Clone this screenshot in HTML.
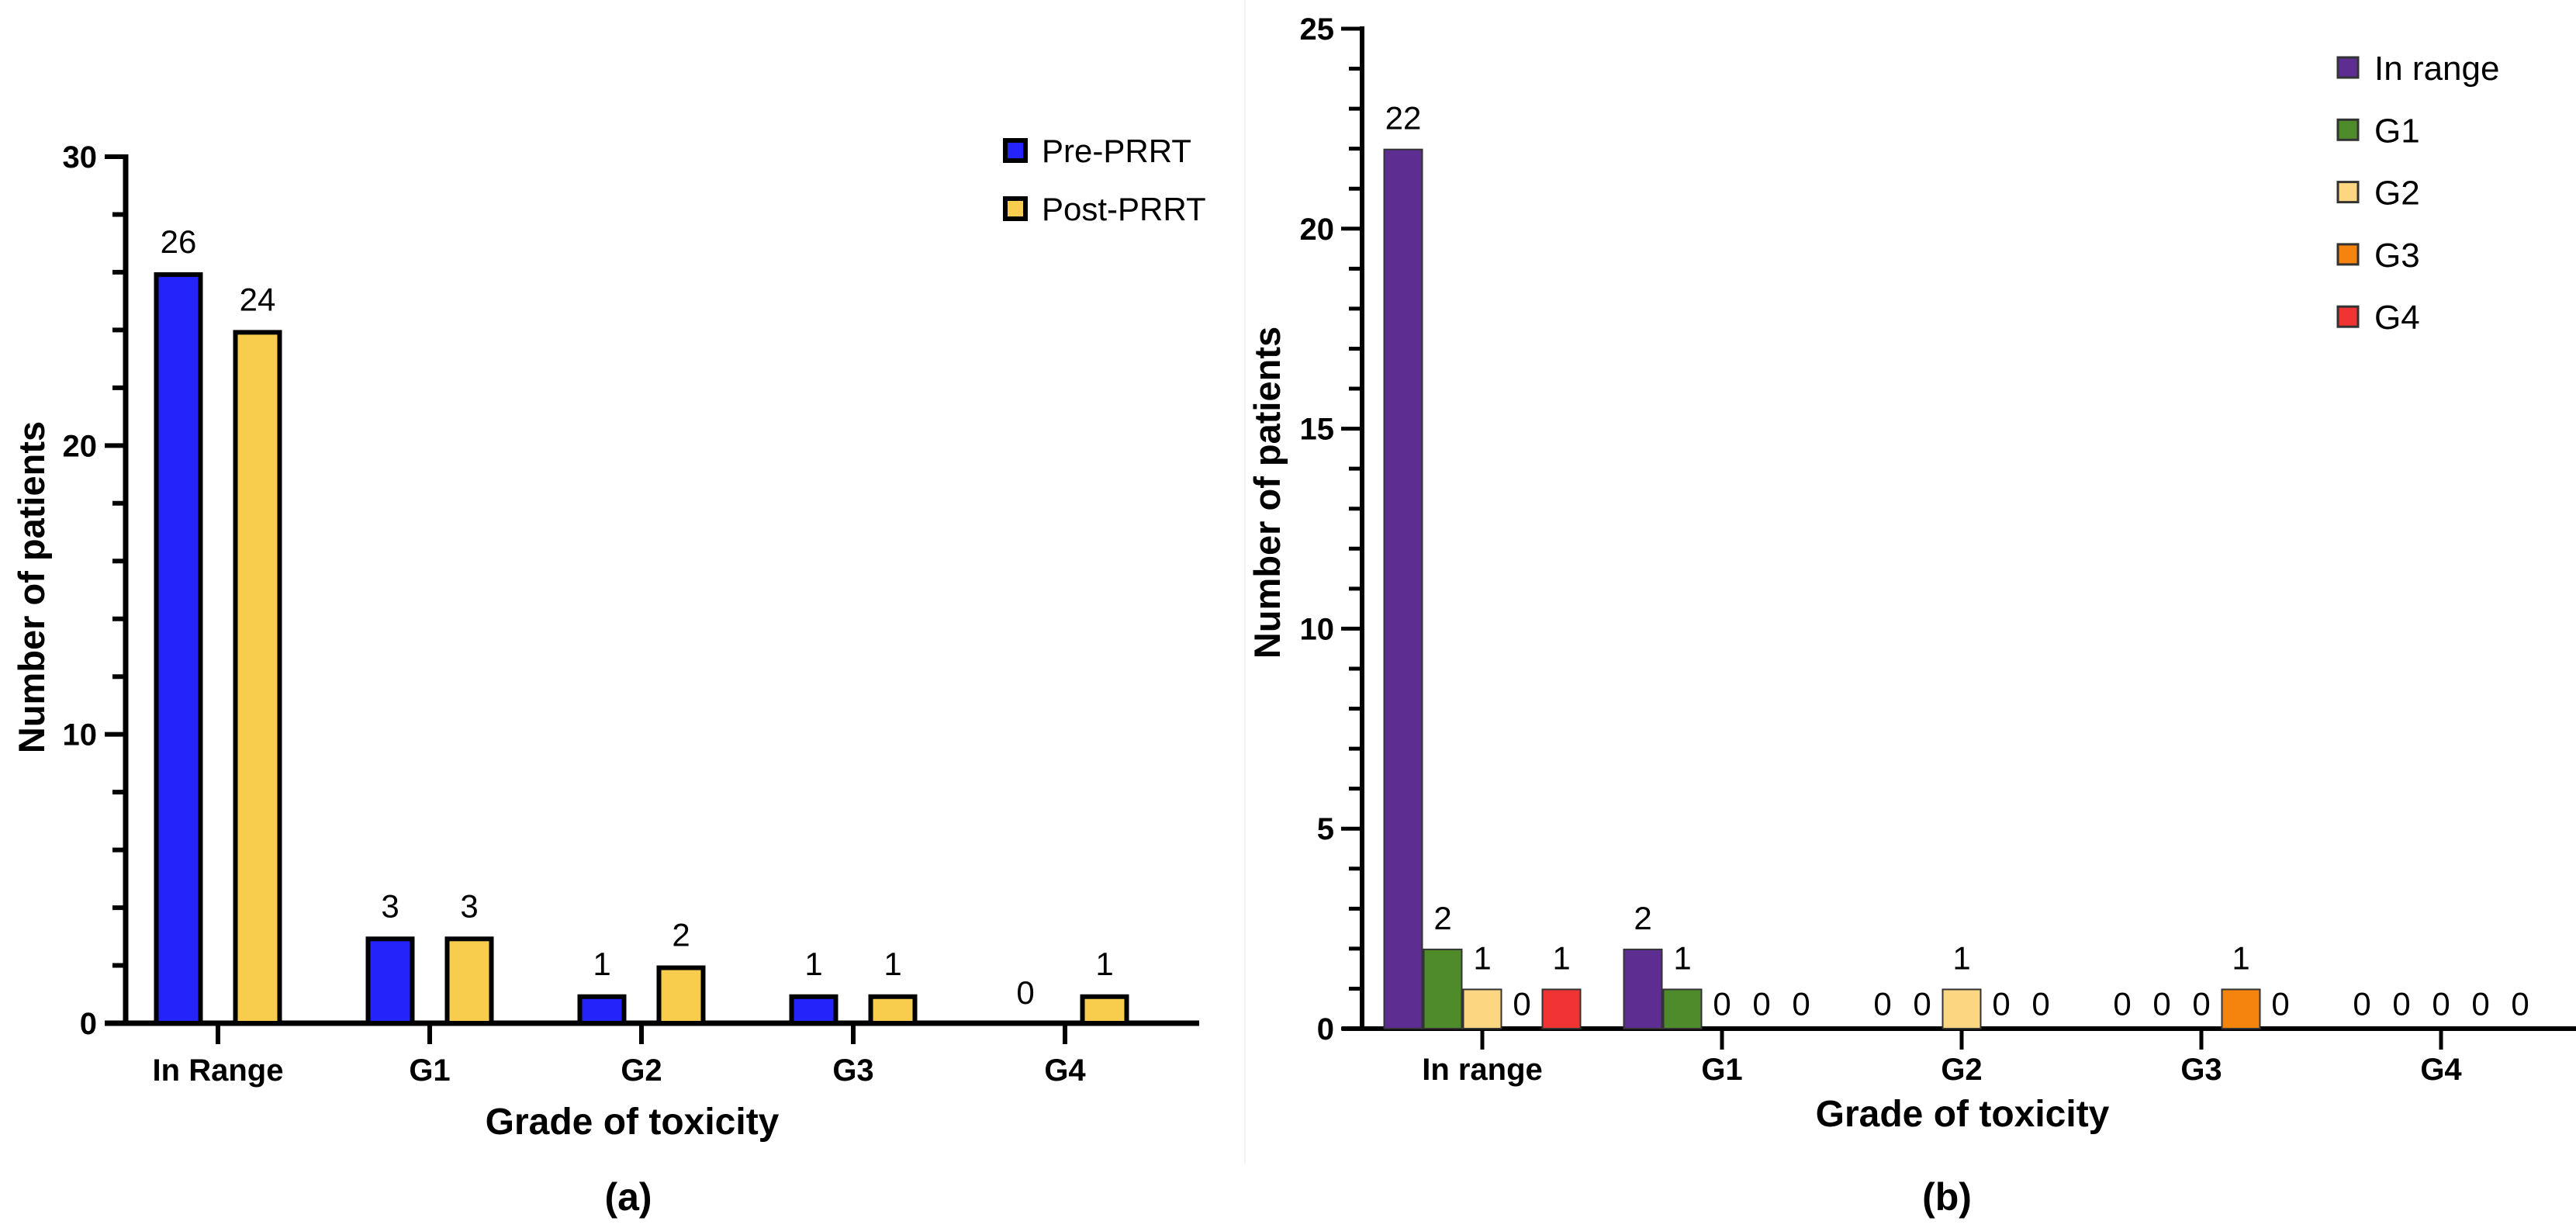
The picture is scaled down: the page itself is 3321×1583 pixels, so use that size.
<!DOCTYPE html>
<html><head><meta charset="utf-8"><style>
html,body{margin:0;padding:0;background:#fff;}
svg{display:block;font-family:"Liberation Sans",Arial,sans-serif;}
</style></head><body>
<svg id="fig" width="3321" height="1583" viewBox="0 0 3321 1583" xmlns="http://www.w3.org/2000/svg">
<rect x="0" y="0" width="3321" height="1583" fill="#fff"/>
<line x1="1605" y1="0" x2="1605" y2="1500" stroke="#f2f2f2" stroke-width="2"/>
<g id="chartA"></g>
<g id="chartB"></g>
</svg>
<script>
// ---- Chart (a) data ----
const aCategories = ["In Range","G1","G2","G3","G4"];
const aPre = [26,3,1,1,0];
const aPost = [24,3,2,1,1];
const aSeriesNames = ["Pre-PRRT","Post-PRRT"];
const aTicks = [0,10,20,30];
// ---- Chart (b) data ----
const bCategories = ["In range","G1","G2","G3","G4"];
const bInRange = [22,2,0,0,0];
const bG1 = [2,1,0,0,0];
const bG2 = [1,0,1,0,0];
const bG3 = [0,0,0,1,0];
const bG4 = [1,0,0,0,0];
const bSeriesNames = ["In range","G1","G2","G3","G4"];
const bTicks = [0,5,10,15,20,25];

const NS="http://www.w3.org/2000/svg";
function mk(parent,tag,attrs,text){const e=document.createElementNS(NS,tag);for(const k in attrs)e.setAttribute(k,attrs[k]);if(text!==undefined)e.textContent=text;parent.appendChild(e);return e;}

// ===== Chart A =====
(function(){
const g=document.getElementById('chartA');
const x0=162,y0=1319,yTop=202,maxV=30;
const yS=v=>y0-(v/maxV)*(y0-yTop);
const cx=i=>281+i*273;
const bw=63,off=51;
let el=mk(g,'line',{x1:x0,y1:yTop-3,x2:x0,y2:y0+3,stroke:'#000','stroke-width':7});

for(let v=0;v<=maxV;v+=2){const major=v%10===0;mk(g,'line',{x1:x0-(major?27:17),y1:yS(v),x2:x0,y2:yS(v),stroke:'#000','stroke-width':6});}
aTicks.forEach(t=>{el=mk(g,'text',{x:125,y:yS(t)+14,'text-anchor':'end','font-size':40,'font-weight':'bold'},String(t));
});
el=mk(g,'line',{x1:135,y1:y0,x2:1546,y2:y0,stroke:'#000','stroke-width':7});

aCategories.forEach((c,i)=>{mk(g,'line',{x1:cx(i),y1:y0,x2:cx(i),y2:y0+27,stroke:'#000','stroke-width':6});
el=mk(g,'text',{x:cx(i),y:1393,'text-anchor':'middle','font-size':40,'font-weight':'bold'},c);
});
const series=[[aPre,'#2323FA',-off],[aPost,'#F8CD4E',off]];
series.forEach(([vals,col,o],si)=>{vals.forEach((v,i)=>{
 const xc=cx(i)+o;
 if(v>0){el=mk(g,'rect',{x:xc-bw/2+3,y:yS(v)+3,width:bw-6,height:y0-yS(v)-3,fill:col,stroke:'#000','stroke-width':6});
 }
 el=mk(g,'text',{x:xc,y:yS(v)-25,'text-anchor':'middle','font-size':42},String(v));
 
});});
const legCols=['#2323FA','#F8CD4E'];
aSeriesNames.forEach((n,i)=>{const yc=194+i*75;
 el=mk(g,'rect',{x:1296,y:yc-13,width:26,height:26,fill:legCols[i],stroke:'#000','stroke-width':6});
 
 el=mk(g,'text',{x:1343,y:yc+15,'font-size':42},n);
 });
el=mk(g,'text',{transform:'translate(57,757) rotate(-90)','text-anchor':'middle','font-size':47,'font-weight':'bold'},'Number of patients');

el=mk(g,'text',{x:815,y:1462,'text-anchor':'middle','font-size':48,'font-weight':'bold'},'Grade of toxicity');

el=mk(g,'text',{x:810,y:1560,'text-anchor':'middle','font-size':50,'font-weight':'bold'},'(a)');

})();

// ===== Chart B =====
(function(){
const g=document.getElementById('chartB');
const x0=1756,y0=1326,yTop=37,maxV=25;
const yS=v=>y0-(v/maxV)*(y0-yTop);
const cx=i=>1911+i*309;
const bw=51;
let el=mk(g,'line',{x1:x0,y1:yTop-3,x2:x0,y2:y0+3,stroke:'#000','stroke-width':6});

for(let v=0;v<=maxV;v+=1){const major=v%5===0;mk(g,'line',{x1:x0-(major?27:17),y1:yS(v),x2:x0,y2:yS(v),stroke:'#000','stroke-width':5});}
bTicks.forEach(t=>{el=mk(g,'text',{x:1720,y:yS(t)+14,'text-anchor':'end','font-size':40,'font-weight':'bold'},String(t));
});
el=mk(g,'line',{x1:1730,y1:y0,x2:3321,y2:y0,stroke:'#000','stroke-width':6});

bCategories.forEach((c,i)=>{mk(g,'line',{x1:cx(i),y1:y0,x2:cx(i),y2:y0+27,stroke:'#000','stroke-width':5});
el=mk(g,'text',{x:cx(i),y:1392,'text-anchor':'middle','font-size':40,'font-weight':'bold'},c);
});
const cols=['#5E2D91','#4E8B2A','#FCD680','#F5840F','#F03333'];
const all=[bInRange,bG1,bG2,bG3,bG4];
all.forEach((vals,si)=>{vals.forEach((v,i)=>{
 const xc=cx(i)+(si-2)*bw;
 if(v>0){el=mk(g,'rect',{x:xc-bw/2+1,y:yS(v)+1,width:bw-2,height:y0-yS(v)-1,fill:cols[si],stroke:'#333','stroke-width':2});
 }
 el=mk(g,'text',{x:xc,y:yS(v)-25,'text-anchor':'middle','font-size':42},String(v));
 if(v===0) el.setAttribute('y',yS(1)+34);
 
});});
bSeriesNames.forEach((n,i)=>{const yc=87+i*80.3;
 el=mk(g,'rect',{x:3014,y:yc-13,width:26,height:26,fill:cols[i],stroke:'#333','stroke-width':3});
 
 el=mk(g,'text',{x:3061,y:yc+16,'font-size':44},n);
 });
el=mk(g,'text',{transform:'translate(1650,635) rotate(-90)','text-anchor':'middle','font-size':47,'font-weight':'bold'},'Number of patients');

el=mk(g,'text',{x:2530,y:1452,'text-anchor':'middle','font-size':48,'font-weight':'bold'},'Grade of toxicity');

el=mk(g,'text',{x:2510,y:1560,'text-anchor':'middle','font-size':50,'font-weight':'bold'},'(b)');

})();
</script>
</body></html>
